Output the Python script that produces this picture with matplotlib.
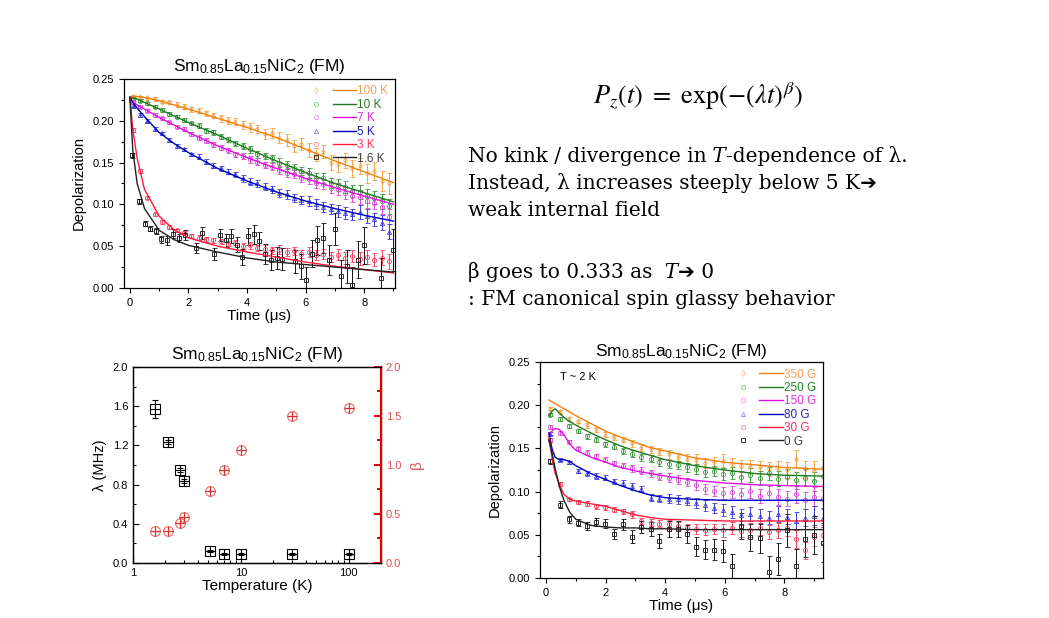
import matplotlib
matplotlib.use('Agg')
import matplotlib.pyplot as plt
from matplotlib.lines import Line2D
from matplotlib.legend_handler import HandlerTuple
from matplotlib.ticker import MultipleLocator, FormatStrFormatter, NullFormatter
from matplotlib.offsetbox import TextArea, HPacker, AnnotationBbox

plt.rcParams['font.family'] = ['Liberation Sans', 'DejaVu Sans']
plt.rcParams['mathtext.fontset'] = 'custom'
plt.rcParams['mathtext.rm'] = 'Liberation Sans'
plt.rcParams['mathtext.it'] = 'Liberation Sans:italic'

TITLE = r'Sm$\mathregular{_{0.85}}$La$\mathregular{_{0.15}}$NiC$\mathregular{_2}$ (FM)'

# ---- top left: temperature dependence of the depolarization ----
t_dense = [0.10, 0.35, 0.60, 0.85, 1.10, 1.35, 1.60, 1.85, 2.10, 2.35, 2.60, 2.85,
           3.10, 3.35, 3.60, 3.85, 4.10, 4.35, 4.60, 4.85, 5.10, 5.35, 5.60, 5.85,
           6.10, 6.35, 6.60, 6.85, 7.10, 7.35, 7.60, 7.85, 8.10, 8.35, 8.60, 8.85]
d_100K = [0.229, 0.228, 0.227, 0.226, 0.223, 0.222, 0.219, 0.217, 0.214, 0.212, 0.209, 0.206,
          0.203, 0.200, 0.199, 0.195, 0.192, 0.190, 0.184, 0.185, 0.180, 0.177, 0.170, 0.172,
          0.165, 0.160, 0.163, 0.150, 0.148, 0.153, 0.143, 0.146, 0.137, 0.140, 0.128, 0.125]
d_10K = [0.227, 0.224, 0.221, 0.217, 0.213, 0.208, 0.205, 0.201, 0.197, 0.194, 0.188, 0.186,
         0.181, 0.178, 0.173, 0.170, 0.166, 0.160, 0.158, 0.155, 0.150, 0.147, 0.143, 0.140,
         0.137, 0.132, 0.131, 0.126, 0.123, 0.121, 0.116, 0.115, 0.110, 0.108, 0.104, 0.098]
d_7K = [0.222, 0.217, 0.212, 0.207, 0.203, 0.198, 0.193, 0.190, 0.184, 0.180, 0.176, 0.172,
        0.168, 0.165, 0.160, 0.158, 0.154, 0.151, 0.147, 0.145, 0.141, 0.138, 0.136, 0.132,
        0.130, 0.126, 0.124, 0.120, 0.118, 0.114, 0.110, 0.109, 0.104, 0.102, 0.097, 0.085]
d_5K = [0.218, 0.207, 0.200, 0.190, 0.185, 0.177, 0.170, 0.166, 0.160, 0.157, 0.151, 0.146,
        0.143, 0.139, 0.136, 0.131, 0.127, 0.125, 0.121, 0.118, 0.114, 0.112, 0.108, 0.105,
        0.104, 0.100, 0.097, 0.095, 0.092, 0.090, 0.088, 0.091, 0.086, 0.082, 0.078, 0.067]
d_3K = [0.189, 0.140, 0.108, 0.088, 0.079, 0.073, 0.069, 0.066, 0.062, 0.060, 0.058, 0.057,
        0.056, 0.053, 0.054, 0.050, 0.051, 0.048, 0.047, 0.045, 0.046, 0.043, 0.044, 0.041,
        0.043, 0.039, 0.041, 0.037, 0.040, 0.036, 0.038, 0.035, 0.037, 0.034, 0.036, 0.032]
e_100K = [0.002, 0.002, 0.002, 0.002, 0.002, 0.002, 0.003, 0.003, 0.003, 0.003, 0.003, 0.003,
          0.004, 0.004, 0.004, 0.005, 0.005, 0.005, 0.006, 0.006, 0.006, 0.007, 0.007, 0.007,
          0.008, 0.008, 0.008, 0.009, 0.009, 0.009, 0.010, 0.010, 0.011, 0.011, 0.012, 0.012]
e_mid = [0.002, 0.002, 0.002, 0.002, 0.002, 0.002, 0.002, 0.002, 0.002, 0.003, 0.003, 0.003,
         0.003, 0.003, 0.003, 0.004, 0.004, 0.004, 0.004, 0.004, 0.005, 0.005, 0.005, 0.005,
         0.006, 0.006, 0.006, 0.006, 0.007, 0.007, 0.007, 0.008, 0.008, 0.008, 0.009, 0.009]
t_16K = [0.09, 0.30, 0.51, 0.68, 0.88, 1.08, 1.28, 1.48, 1.68, 1.88, 2.26, 2.47, 2.86, 3.08,
         3.28, 3.46, 3.65, 3.83, 4.05, 4.24, 4.42, 4.62, 4.82, 5.01, 5.21, 5.65, 5.83, 6.00,
         6.21, 6.40, 6.61, 6.79, 6.99, 7.20, 7.40, 7.60, 7.78, 7.98, 8.58, 9.00]
d_16K = [0.159, 0.104, 0.077, 0.071, 0.068, 0.058, 0.057, 0.065, 0.060, 0.063, 0.048, 0.066,
         0.041, 0.063, 0.057, 0.062, 0.052, 0.037, 0.062, 0.064, 0.056, 0.041, 0.034, 0.036,
         0.035, 0.032, 0.026, 0.009, 0.041, 0.057, 0.060, 0.034, 0.071, 0.014, 0.026, 0.004,
         0.034, 0.051, 0.012, 0.045]
e_16K = [0.003, 0.003, 0.003, 0.003, 0.004, 0.004, 0.005, 0.005, 0.005, 0.006, 0.006, 0.007,
         0.007, 0.007, 0.008, 0.008, 0.009, 0.010, 0.010, 0.011, 0.011, 0.012, 0.012, 0.013,
         0.013, 0.014, 0.015, 0.016, 0.016, 0.017, 0.018, 0.018, 0.019, 0.020, 0.020, 0.021,
         0.022, 0.022, 0.024, 0.025]
fit_t_tl = [0.0, 0.1, 0.25, 0.5, 1.0, 1.5, 2.0, 3.0, 4.0, 5.0, 6.0, 7.0, 8.0, 9.0]
fit_100K = [0.229, 0.229, 0.229, 0.228, 0.224, 0.219, 0.214, 0.203, 0.192, 0.180, 0.166, 0.152, 0.139, 0.126]
fit_10K = [0.228, 0.227, 0.226, 0.222, 0.214, 0.206, 0.198, 0.183, 0.167, 0.152, 0.138, 0.125, 0.114, 0.103]
fit_7K = [0.224, 0.222, 0.219, 0.214, 0.204, 0.195, 0.186, 0.170, 0.156, 0.143, 0.131, 0.120, 0.110, 0.100]
fit_5K = [0.228, 0.222, 0.215, 0.205, 0.186, 0.173, 0.162, 0.143, 0.128, 0.115, 0.104, 0.095, 0.087, 0.080]
fit_3K = [0.228, 0.190, 0.155, 0.118, 0.086, 0.070, 0.060, 0.050, 0.043, 0.037, 0.031, 0.026, 0.022, 0.018]
fit_16K = [0.228, 0.165, 0.125, 0.095, 0.069, 0.058, 0.051, 0.043, 0.036, 0.031, 0.028, 0.025, 0.022, 0.019]
labels_T = ['100 K', '10 K', '7 K', '5 K', '3 K', '1.6 K']

# ---- bottom left: fit parameters vs temperature ----
temps = [1.6, 2.1, 2.7, 3.0, 5.2, 7.0, 10.0, 30.0, 100.0]
lam = [1.57, 1.23, 0.95, 0.84, 0.12, 0.095, 0.095, 0.095, 0.095]
lam_err = [0.09, 0.02, 0.02, 0.02, 0.01, 0.01, 0.01, 0.01, 0.01]
beta = [0.33, 0.33, 0.41, 0.47, 0.735, 0.95, 1.15, 1.50, 1.58]

# ---- bottom right: field dependence at T ~ 2 K ----
t_br = [0.15, 0.46, 0.76, 1.07, 1.37, 1.68, 1.98, 2.29, 2.59, 2.90, 3.20, 3.51, 3.81, 4.12,
        4.42, 4.73, 5.03, 5.34, 5.64, 5.95, 6.25, 6.56, 6.86, 7.17, 7.47, 7.78, 8.08, 8.39,
        8.69, 9.00, 9.30]
d_350G = [0.196, 0.192, 0.184, 0.181, 0.177, 0.172, 0.166, 0.163, 0.160, 0.156, 0.151, 0.149,
          0.146, 0.143, 0.140, 0.138, 0.137, 0.133, 0.134, 0.136, 0.132, 0.130, 0.129, 0.128,
          0.126, 0.127, 0.125, 0.138, 0.126, 0.124, 0.127]
d_250G = [0.189, 0.184, 0.176, 0.170, 0.164, 0.160, 0.155, 0.152, 0.147, 0.144, 0.140, 0.138,
          0.134, 0.132, 0.131, 0.128, 0.126, 0.123, 0.124, 0.120, 0.122, 0.117, 0.119, 0.116,
          0.121, 0.115, 0.117, 0.113, 0.116, 0.112, 0.118]
d_150G = [0.175, 0.168, 0.158, 0.150, 0.145, 0.141, 0.137, 0.133, 0.130, 0.127, 0.124, 0.121,
          0.117, 0.116, 0.114, 0.111, 0.108, 0.103, 0.101, 0.098, 0.100, 0.097, 0.101, 0.095,
          0.098, 0.094, 0.092, 0.097, 0.090, 0.094, 0.091]
d_80G = [0.167, 0.137, 0.134, 0.124, 0.121, 0.118, 0.116, 0.112, 0.110, 0.106, 0.103, 0.093,
         0.092, 0.092, 0.091, 0.089, 0.087, 0.084, 0.081, 0.079, 0.076, 0.073, 0.074, 0.072,
         0.070, 0.074, 0.071, 0.066, 0.070, 0.072, 0.070]
d_30G = [0.160, 0.109, 0.091, 0.088, 0.086, 0.083, 0.082, 0.079, 0.077, 0.074, 0.066, 0.064,
         0.063, 0.062, 0.060, 0.058, 0.057, 0.056, 0.057, 0.055, 0.058, 0.054, 0.056, 0.058,
         0.053, 0.055, 0.058, 0.045, 0.032, 0.048, 0.050]
d_0G = [0.135, 0.085, 0.068, 0.064, 0.060, 0.065, 0.063, 0.051, 0.062, 0.048, 0.059, 0.057,
        0.043, 0.057, 0.057, 0.051, 0.036, 0.033, 0.033, 0.031, 0.014, 0.060, 0.047, 0.046,
        0.007, 0.022, 0.055, 0.014, 0.045, 0.050, 0.041]
e_br = [0.002, 0.002, 0.002, 0.002, 0.003, 0.003, 0.003, 0.003, 0.003, 0.004, 0.004, 0.004,
        0.004, 0.005, 0.005, 0.005, 0.006, 0.006, 0.006, 0.007, 0.007, 0.007, 0.008, 0.008,
        0.008, 0.009, 0.009, 0.010, 0.010, 0.011, 0.011]
e_0G = [0.003, 0.004, 0.004, 0.004, 0.005, 0.005, 0.005, 0.006, 0.006, 0.007, 0.007, 0.008,
        0.008, 0.009, 0.009, 0.010, 0.011, 0.011, 0.012, 0.013, 0.014, 0.015, 0.016, 0.017,
        0.018, 0.018, 0.019, 0.020, 0.021, 0.022, 0.023]
fit_t_br = [0.1, 0.2, 0.3, 0.45, 0.6, 0.8, 1.0, 1.5, 2.0, 2.5, 3.0, 3.5, 4.0, 5.0, 6.0, 7.0, 8.0, 9.3]
fit_350G = [0.206, 0.204, 0.202, 0.199, 0.196, 0.192, 0.188, 0.179, 0.170, 0.163, 0.157, 0.151, 0.147, 0.139, 0.134, 0.131, 0.128, 0.126]
fit_250G = [0.188, 0.193, 0.196, 0.191, 0.186, 0.181, 0.177, 0.168, 0.160, 0.153, 0.147, 0.142, 0.137, 0.130, 0.125, 0.121, 0.119, 0.118]
fit_150G = [0.166, 0.170, 0.173, 0.172, 0.166, 0.155, 0.148, 0.140, 0.134, 0.128, 0.124, 0.121, 0.118, 0.113, 0.110, 0.108, 0.107, 0.106]
fit_80G = [0.168, 0.150, 0.140, 0.137, 0.137, 0.135, 0.130, 0.121, 0.114, 0.107, 0.101, 0.096, 0.093, 0.091, 0.090, 0.090, 0.090, 0.090]
fit_30G = [0.163, 0.140, 0.122, 0.108, 0.097, 0.091, 0.089, 0.086, 0.083, 0.078, 0.073, 0.070, 0.068, 0.067, 0.066, 0.066, 0.066, 0.066]
fit_0G = [0.160, 0.145, 0.128, 0.106, 0.090, 0.076, 0.068, 0.061, 0.059, 0.058, 0.058, 0.057, 0.057, 0.056, 0.056, 0.056, 0.056, 0.056]
labels_B = ['350 G', '250 G', '150 G', '80 G', '30 G', '0 G']

# colours: (data, fit line, legend text)
C_ORANGE = ('#f3a54a', '#f08010', '#f0a050')
C_GREEN = ('#3a9a3a', '#1f7a1f', '#208020')
C_MAGENTA = ('#d84ad8', '#e010e0', '#e030e0')
C_BLUE = ('#3a3ad8', '#0000c0', '#2020c0')
C_RED = ('#f04060', '#ff1a3a', '#ff3060')
C_BLACK = ('#111111', '#222222', '#404040')


def style_axes(ax):
    for s in ax.spines.values():
        s.set_linewidth(0.9)
    ax.tick_params(which='both', direction='out', labelsize=8, width=0.8)
    ax.tick_params(which='major', length=3.5)
    ax.tick_params(which='minor', length=2)


def draw_series(ax, t, d, e, ft, fv, marker, col, label):
    ax.errorbar(t, d, yerr=e, fmt=marker, ms=3, mfc='none', mec=col[0], mew=0.6,
                ecolor=col[0], elinewidth=0.7, capsize=1.8, capthick=0.7, zorder=2)
    ax.plot(ft, fv, color=col[1], lw=1.0, zorder=3)
    mk = Line2D([], [], ls='', marker=marker, ms=3, mfc='none', mec=col[0], mew=0.6,
                alpha=0.6 if col is not C_BLACK else 1.0)
    ln = Line2D([], [], color=col[1], lw=1.0)
    return (mk, ln), label, col[2]


def add_legend(ax, entries):
    ax.legend([h for h, _, _ in entries], [l for _, l, _ in entries],
              handler_map={tuple: HandlerTuple(ndivide=None, pad=0.4)},
              handlelength=4.4, handletextpad=0.1, labelspacing=0.12,
              labelcolor=[c for _, _, c in entries], frameon=False,
              fontsize=8.5, loc='upper right', borderaxespad=0.15)


fig = plt.figure(figsize=(10.49, 6.18), dpi=100)

# top left panel
ax1 = fig.add_axes([0.1182, 0.534, 0.2583, 0.3382])
ent = []
ent.append(draw_series(ax1, t_dense, d_100K, e_100K, fit_t_tl, fit_100K, 'd', C_ORANGE, labels_T[0]))
ent.append(draw_series(ax1, t_dense, d_10K, e_mid, fit_t_tl, fit_10K, 'o', C_GREEN, labels_T[1]))
ent.append(draw_series(ax1, t_dense, d_7K, e_mid, fit_t_tl, fit_7K, 'o', C_MAGENTA, labels_T[2]))
ent.append(draw_series(ax1, t_dense, d_5K, e_mid, fit_t_tl, fit_5K, '^', C_BLUE, labels_T[3]))
ent.append(draw_series(ax1, t_dense, d_3K, e_mid, fit_t_tl, fit_3K, 'o', C_RED, labels_T[4]))
ent.append(draw_series(ax1, t_16K, d_16K, e_16K, fit_t_tl, fit_16K, 's', C_BLACK, labels_T[5]))
add_legend(ax1, ent)
ax1.set_xlim(-0.2, 9.05)
ax1.set_ylim(0, 0.25)
ax1.xaxis.set_major_locator(MultipleLocator(2))
ax1.xaxis.set_minor_locator(MultipleLocator(1))
ax1.yaxis.set_major_locator(MultipleLocator(0.05))
ax1.yaxis.set_minor_locator(MultipleLocator(0.025))
ax1.yaxis.set_major_formatter('{x:.2f}')
style_axes(ax1)
ax1.set_xlabel('Time (μs)', fontsize=11, labelpad=1)
ax1.set_ylabel('Depolarization', fontsize=10.5, labelpad=5)
ax1.set_title(TITLE, fontsize=12.5, pad=6)

# bottom left panel
ax2 = fig.add_axes([0.1268, 0.089, 0.2364, 0.3172])
ax3 = ax2.twinx()
ax2.errorbar(temps, lam, yerr=lam_err, fmt='s', ms=7, mfc='none', mec='k', mew=0.8,
             ecolor='k', elinewidth=0.8, capsize=2.5, zorder=3)
ax2.plot(temps, lam, ls='', marker='+', ms=7, color='k', mew=0.8)
ax3.plot(temps, beta, ls='', marker='o', ms=7, mfc='none', mec='#e86a6a', mew=0.8)
ax3.plot(temps, beta, ls='', marker='+', ms=7, color='#d83030', mew=0.9)
ax2.set_xscale('log')
ax2.set_xlim(1, 200)
ax2.set_ylim(0, 2.0)
ax3.set_ylim(0, 2.0)
ax2.xaxis.set_major_formatter(FormatStrFormatter('%g'))
ax2.xaxis.set_minor_formatter(NullFormatter())
ax2.yaxis.set_major_locator(MultipleLocator(0.4))
ax2.yaxis.set_minor_locator(MultipleLocator(0.2))
ax2.yaxis.set_major_formatter('{x:.1f}')
ax3.yaxis.set_major_locator(MultipleLocator(0.5))
ax3.yaxis.set_minor_locator(MultipleLocator(0.25))
ax3.yaxis.set_major_formatter('{x:.1f}')
for a in (ax2, ax3):
    for s in a.spines.values():
        s.set_linewidth(0.9)
ax2.tick_params(which='both', direction='in', labelsize=8, width=0.8)
ax2.tick_params(which='major', length=4)
ax2.tick_params(which='minor', length=2)
ax3.spines['right'].set_color('#e00000')
ax3.spines['right'].set_linewidth(1.6)
ax3.tick_params(which='both', direction='in', colors='#e00000', labelsize=8, width=1.4)
ax3.tick_params(which='major', length=5)
ax3.tick_params(which='minor', length=3)
ax3.tick_params(axis='y', labelcolor='#e05050')
ax2.set_xlabel('Temperature (K)', fontsize=11, labelpad=1)
ax2.set_ylabel('λ (MHz)', fontsize=10.5, labelpad=4)
ax3.set_ylabel('β', fontsize=11, color='#e05050', labelpad=6)
ax2.set_title(TITLE, fontsize=12.5, pad=6)

# bottom right panel
ax4 = fig.add_axes([0.5148, 0.0647, 0.2698, 0.3495])
ent = []
ent.append(draw_series(ax4, t_br, d_350G, e_br, fit_t_br, fit_350G, 'd', C_ORANGE, labels_B[0]))
ent.append(draw_series(ax4, t_br, d_250G, e_br, fit_t_br, fit_250G, 'o', C_GREEN, labels_B[1]))
ent.append(draw_series(ax4, t_br, d_150G, e_br, fit_t_br, fit_150G, 'o', C_MAGENTA, labels_B[2]))
ent.append(draw_series(ax4, t_br, d_80G, e_br, fit_t_br, fit_80G, '^', C_BLUE, labels_B[3]))
ent.append(draw_series(ax4, t_br, d_30G, e_br, fit_t_br, fit_30G, 'o', C_RED, labels_B[4]))
ent.append(draw_series(ax4, t_br, d_0G, e_0G, fit_t_br, fit_0G, 's', C_BLACK, labels_B[5]))
add_legend(ax4, ent)
ax4.text(0.07, 0.93, 'T ~ 2 K', transform=ax4.transAxes, fontsize=8, va='center')
ax4.set_xlim(-0.2, 9.3)
ax4.set_ylim(0, 0.25)
ax4.xaxis.set_major_locator(MultipleLocator(2))
ax4.xaxis.set_minor_locator(MultipleLocator(1))
ax4.yaxis.set_major_locator(MultipleLocator(0.05))
ax4.yaxis.set_minor_locator(MultipleLocator(0.025))
ax4.yaxis.set_major_formatter('{x:.2f}')
style_axes(ax4)
ax4.set_xlabel('Time (μs)', fontsize=11, labelpad=1)
ax4.set_ylabel('Depolarization', fontsize=10.5, labelpad=5)
ax4.set_title(TITLE, fontsize=12.5, pad=4)

# text on the right of the slide
serif = ['DejaVu Serif', 'DejaVu Sans']
fig.text(0.665, 0.846, r'$P_z(t)\ =\ \exp(-(\lambda t)^{\beta})$', fontsize=19,
         math_fontfamily='stix', ha='center', va='center')


def text_line(y, parts):
    boxes = [TextArea(s, textprops=dict(fontsize=14.5, family=serif, style=st))
             for s, st in parts]
    pack = HPacker(children=boxes, pad=0, sep=0, align='baseline')
    ab = AnnotationBbox(pack, (0.446, y), xycoords='figure fraction',
                        box_alignment=(0, 0.5), frameon=False, pad=0)
    fig.add_artist(ab)


text_line(0.748, [('No kink / divergence in', 'normal'), (' T', 'italic'),
                  ('-dependence of λ.', 'normal')])
text_line(0.704, [('Instead, λ increases steeply below 5 K➔', 'normal')])
text_line(0.660, [('weak internal field', 'normal')])
text_line(0.560, [('β goes to 0.333 as', 'normal'), ('  T', 'italic'), ('➔ 0', 'normal')])
text_line(0.515, [(': FM canonical spin glassy behavior', 'normal')])

fig.savefig('out.png', dpi=100)
